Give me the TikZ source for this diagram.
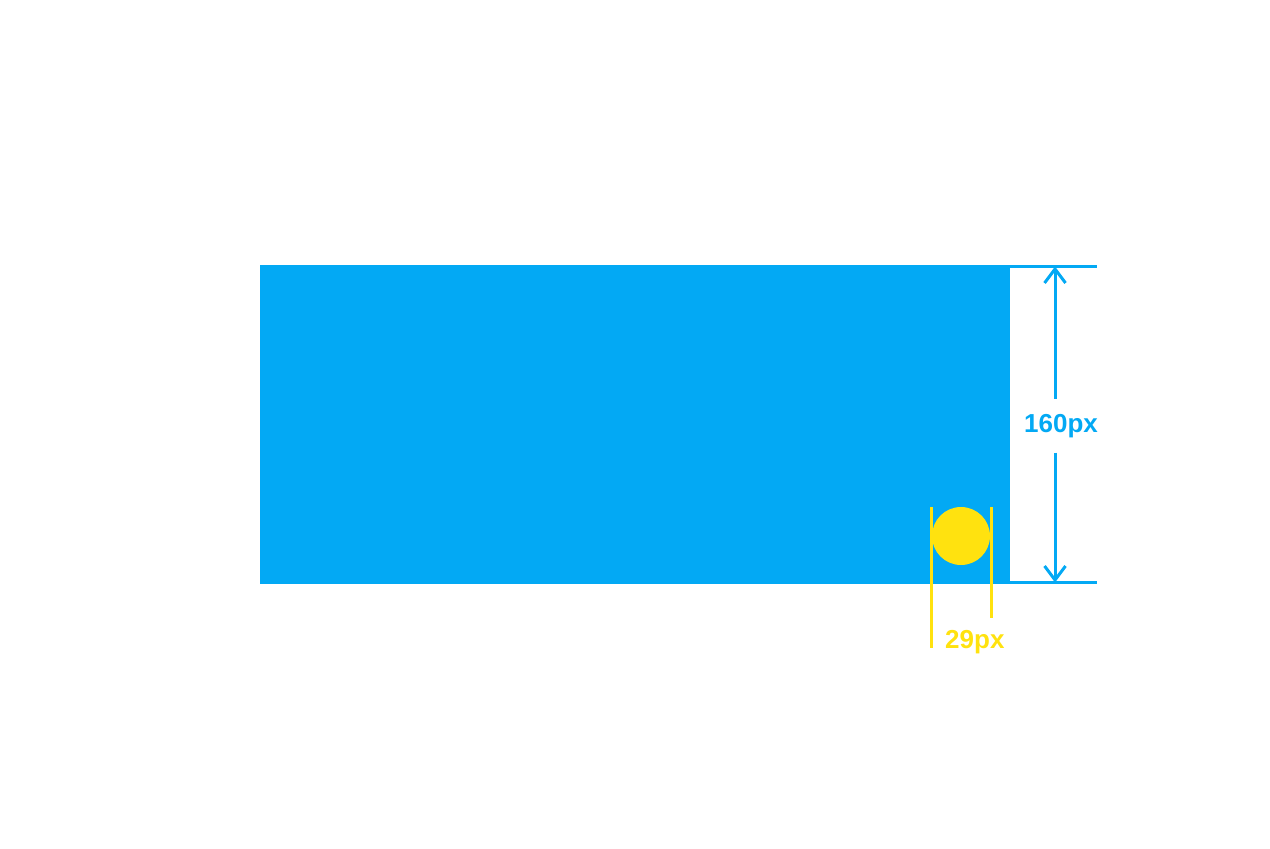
\documentclass[tikz,border=0pt]{standalone}
\usepackage{fontspec}
\setmainfont{Liberation Sans}
\usetikzlibrary{arrows.meta}
\definecolor{barblue}{HTML}{03A9F4}
\definecolor{dotyellow}{HTML}{FFE20F}

\begin{document}
\begin{tikzpicture}[x=1pt,y=-1pt,
   dimline/.style={line width=3pt},
   dimtip/.style={-{Straight Barb[length=14pt,width=21pt]}},
   dimlabel/.style={font=\fontsize{26}{30}\selectfont\bfseries,inner xsep=0pt,inner ysep=15pt}]
  \useasboundingbox (0,0) rectangle (1270,849);

  % ---- blue bar ----
  \node[fill=barblue,inner sep=0pt,minimum width=750pt,minimum height=319pt] (bar) at (635,424.5) {};

  % ---- height dimension : 160px ----
  \coordinate (topend) at (1097,266.5);
  \coordinate (botend) at (1097,582.5);
  \coordinate (htop) at (1055,266.5);
  \coordinate (hbot) at (1055,582.5);
  \draw[barblue,dimline] (bar.east |- topend) -- (topend);
  \draw[barblue,dimline] (bar.east |- botend) -- (botend);
  \node[dimlabel,text=barblue,anchor=base] (hlabel) at (1061,432) {160px};
  \draw[barblue,dimline,dimtip] (hlabel.north -| htop) -- (htop);
  \draw[barblue,dimline,dimtip] (hlabel.south -| hbot) -- (hbot);

  % ---- yellow dot : 29px ----
  \node[circle,fill=dotyellow,inner sep=0pt,minimum size=58pt] (dot) at (961,536) {};
  \coordinate (wleft) at (931,648);
  \coordinate (wright) at (991,618);
  \draw[dotyellow,dimline] (wleft |- dot.north) -- (wleft);
  \draw[dotyellow,dimline] (wright |- dot.north) -- (wright);
  \node[dimlabel,text=dotyellow,inner ysep=0pt,anchor=base west] (wlabel) at (945,648) {29px};
\end{tikzpicture}
\end{document}
